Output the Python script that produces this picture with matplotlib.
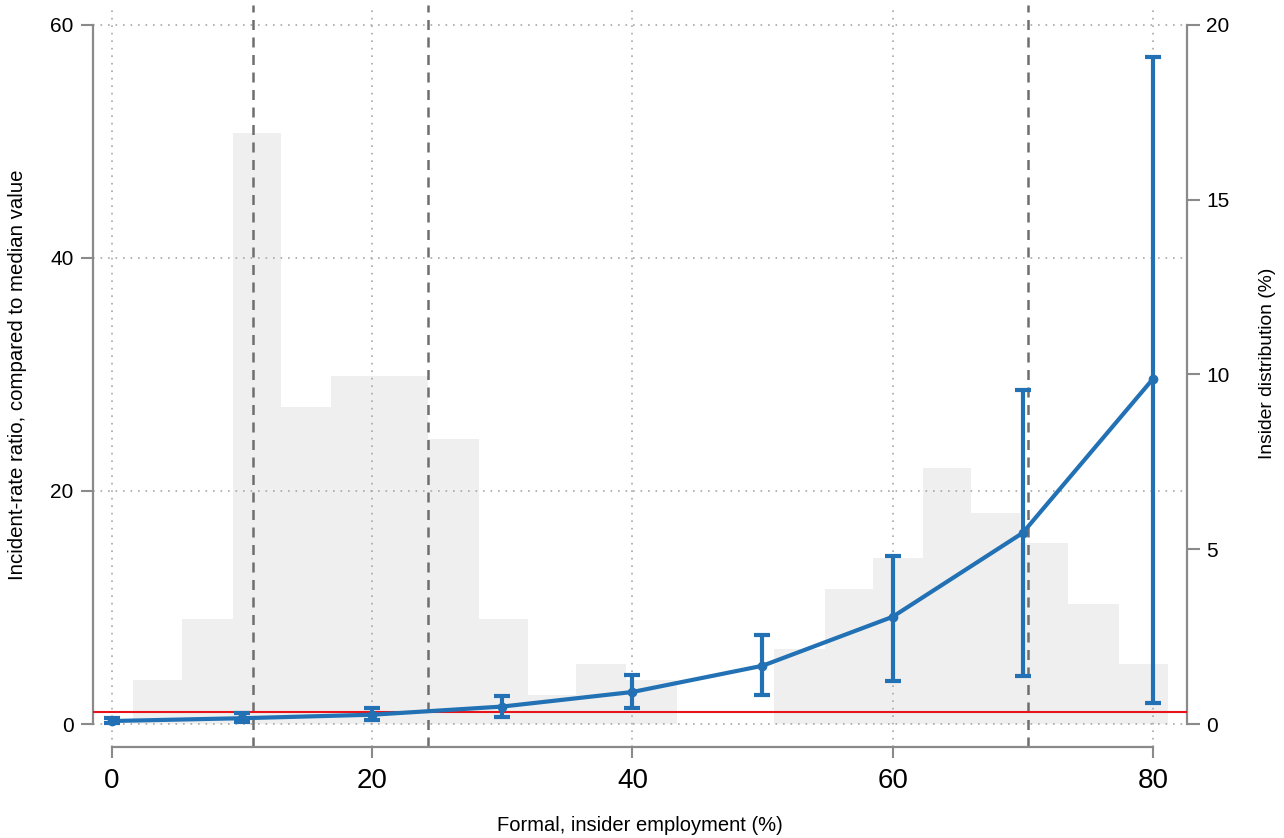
import matplotlib
matplotlib.use("Agg")
import matplotlib.pyplot as plt
from matplotlib import font_manager

# ---------------- data ----------------
bin_edges = [1.6, 5.35, 9.3, 13.0, 16.8, 20.6, 24.3, 28.2, 32.0, 35.7, 39.5, 43.4,
             47.2, 50.9, 54.8, 58.5, 62.3, 66.0, 69.8, 73.5, 77.4, 81.2]
bin_heights = [1.26, 3.0, 16.9, 9.07, 9.96, 9.96, 8.15, 3.0, 0.83, 1.72, 1.26,
               0.0, 0.0, 2.15, 3.86, 4.75, 7.33, 6.04, 5.18, 3.43, 1.72]

x_points = [0, 10, 20, 30, 40, 50, 60, 70, 80]
irr = [0.26, 0.5, 0.8, 1.5, 2.75, 5.0, 9.2, 16.4, 29.6]
ci_low = [0.05, 0.15, 0.35, 0.6, 1.4, 2.5, 3.7, 4.1, 1.8]
ci_high = [0.55, 0.95, 1.4, 2.4, 4.2, 7.6, 14.4, 28.7, 57.2]

ref_value = 1.0
cutoffs = [10.85, 24.3, 70.4]

x_ticks = [0, 20, 40, 60, 80]
y_ticks = [0, 20, 40, 60]
y2_ticks = [0, 5, 10, 15, 20]

xlabel = "Formal, insider employment (%)"
ylabel = "Incident-rate ratio, compared to median value"
y2label = "Insider distribution (%)"

# ---------------- fonts ----------------
names = {f.name for f in font_manager.fontManager.ttflist}
narrow = "Liberation Sans Narrow" if "Liberation Sans Narrow" in names else "Liberation Sans"
plt.rcParams['font.family'] = ['Liberation Sans', 'DejaVu Sans']

W, H = 1284, 838
fig = plt.figure(figsize=(W / 100, H / 100), dpi=100)
L, R, T, B = 93, 1187, 5, 747
ax = fig.add_axes([L / W, (H - B) / H, (R - L) / W, (B - T) / H])
ax2 = ax.twinx()

blue = '#2271b4'
spine_c = '#8a8a8a'

# histogram on right axis
widths = [bin_edges[i + 1] - bin_edges[i] for i in range(len(bin_heights))]
ax2.bar(bin_edges[:-1], bin_heights, width=widths, align='edge',
        color='#efefef', edgecolor='none', zorder=1)

ax.set_zorder(ax2.get_zorder() + 1)
ax.patch.set_visible(False)

# limits
ax.set_xlim(-1.46, 82.63)
ax.set_ylim(-1.97, 61.7)
ax2.set_ylim(-1.97 / 3, 61.7 / 3)

# grid
ax.set_xticks(x_ticks)
ax.set_yticks(y_ticks)
ax2.set_yticks(y2_ticks)
ax.grid(True, linestyle=(0, (1, 3.5)), color='#a8a8a8', linewidth=1.2, zorder=0)

# cutoffs
for c in cutoffs:
    ax.axvline(c, color='#6e6e6e', linewidth=1.8, linestyle=(0, (4, 3)), zorder=2)

# reference line
ax.axhline(ref_value, color='#e8141c', linewidth=1.5, zorder=3)

# IRR with CI
yerr = [[v - lo for v, lo in zip(irr, ci_low)], [hi - v for v, hi in zip(irr, ci_high)]]
ax.errorbar(x_points, irr, yerr=yerr, color=blue, linewidth=3.0, elinewidth=3.0,
            capsize=5.5, capthick=3.0, marker='o', markersize=6, zorder=5)

# spines
for s in ['top', 'right']:
    ax.spines[s].set_visible(False)
for s in ['top', 'left', 'bottom']:
    ax2.spines[s].set_visible(False)
ax.spines['left'].set_bounds(0, 60)
ax.spines['bottom'].set_bounds(0, 80)
ax2.spines['right'].set_bounds(0, 20)
for sp in [ax.spines['left'], ax.spines['bottom'], ax2.spines['right']]:
    sp.set_color(spine_c)
    sp.set_linewidth(1.6)

ax.tick_params(axis='y', direction='out', length=9, width=1.5, color=spine_c,
               labelsize=15, pad=5)
ax.tick_params(axis='x', direction='out', length=8, width=1.5, color=spine_c,
               labelsize=20, pad=7)
ax2.tick_params(axis='y', direction='out', length=9, width=1.5, color=spine_c,
                labelsize=15, pad=5)
for lab in ax.get_xticklabels() + ax.get_yticklabels():
    lab.set_fontfamily([narrow, 'DejaVu Sans'])

fig.text(18 / W, (H - 375) / H, ylabel, rotation=90, ha='center', va='center',
         fontsize=14.7, family=[narrow, 'DejaVu Sans'])
fig.text(1268 / W, (H - 363) / H, y2label, rotation=90, ha='center', va='center',
         fontsize=13.9, family=[narrow, 'DejaVu Sans'])
fig.text(640 / W, (H - 825) / H, xlabel, ha='center', va='center',
         fontsize=14.5, family=[narrow, 'DejaVu Sans'])

fig.savefig('out.png', dpi=100)
